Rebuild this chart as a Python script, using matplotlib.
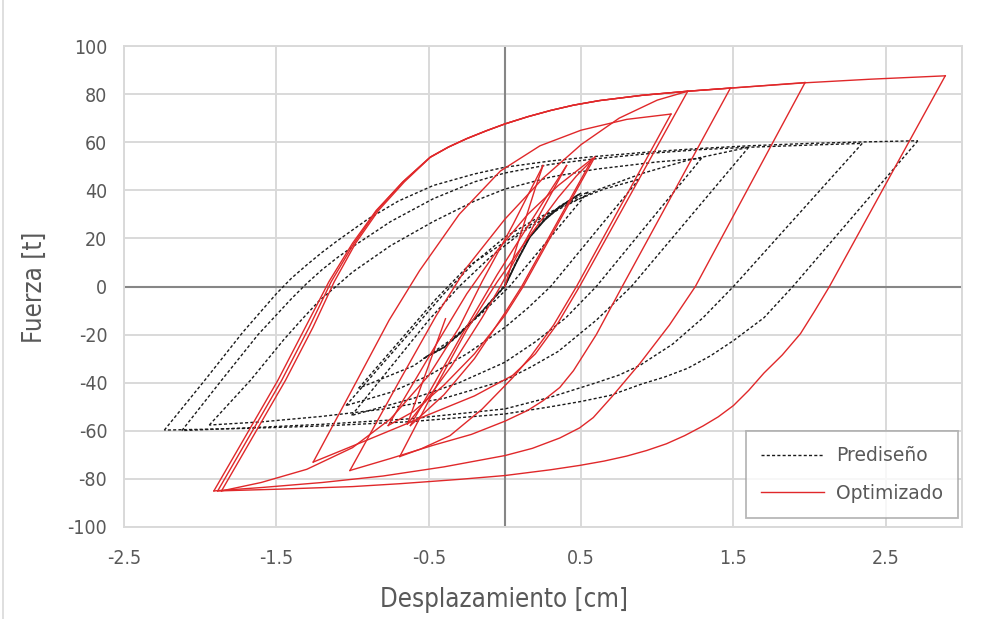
import matplotlib
matplotlib.use("Agg")
import matplotlib.pyplot as plt
from matplotlib.lines import Line2D
from matplotlib.patches import Rectangle
from matplotlib import font_manager

# ---------------- data: force-displacement branches ----------------
# Each branch runs between two load reversals: (displacement [cm], force [t])

# Prediseño (dashed black)
pre_branches = [
    # repeated small cycles around the origin
    [(0, 0), (0.08, 10.5), (0.164, 20.5), (0.26, 27.5), (0.36, 33), (0.49, 38.5)],
    [(0.49, 38.5), (0.36, 33), (0.26, 27.5), (0.164, 20.5), (0.08, 10.5), (0, 0), (-0.15, -10.5),
     (-0.295, -19.7), (-0.4, -25.5), (-0.536, -30)],
    [(-0.536, -30), (-0.4, -25.2), (-0.295, -19.4), (-0.15, -10.2), (0, 0.5), (0.08, 11), (0.164, 21),
     (0.26, 28), (0.36, 33.4), (0.5, 38.8)],
    [(0.5, 38.8), (0.36, 33.2), (0.26, 27.8), (0.164, 20.8), (0.08, 10.8), (0, 0.2), (-0.15, -10.3),
     (-0.295, -19.5), (-0.4, -25.3), (-0.53, -29.6)],
    # loading branches
    [(-2.235, -59.7), (-1.97, -39), (-1.72, -19), (-1.5, -3), (-1.4, 3.5), (-1.3, 9), (-1.2, 14.2),
     (-1.1, 19), (-0.9, 28), (-0.7, 35.5), (-0.47, 42), (-0.2, 46.8), (0, 49.6), (0.3, 52.2),
     (0.58, 54), (1.0, 56.2), (1.28, 57.4), (1.6, 58.5), (2.0, 59.5), (2.345, 60.1), (2.71, 60.6)],
    [(-2.12, -59.9), (-1.86, -39), (-1.62, -20), (-1.4, -5), (-1.3, 1.3), (-1.2, 7), (-1.1, 12),
     (-1.0, 16.5), (-0.75, 27), (-0.47, 36.5), (-0.2, 43.5), (0, 47.2), (0.3, 50.8), (0.58, 53),
     (1.0, 55.6), (1.28, 56.9), (1.6, 57.9), (2.0, 58.8), (2.345, 59.5)],
    [(-1.94, -57.6), (-1.67, -39), (-1.45, -22), (-1.33, -13.5), (-1.22, -6), (-1.1, 0.5),
     (-1.0, 6), (-0.75, 17), (-0.47, 27), (-0.2, 35.5), (0, 40.5), (0.3, 45.5), (0.6, 48.8),
     (1.0, 51.8), (1.29, 53.3)],
    [(-1.006, -53.6), (-0.5, -14), (-0.3, 0), (-0.1, 12), (0.1, 22), (0.35, 32), (0.6, 40),
     (0.9, 47), (1.2, 52.5), (1.6, 57.9)],
    [(-1.043, -49.5), (-0.4, -3), (-0.2, 10), (0, 20.5), (0.2, 28), (0.45, 35.5), (0.65, 40.5),
     (0.88, 44.6)],
    [(-0.96, -42.3), (-0.45, -5), (-0.25, 8), (0, 18.5), (0.2, 27), (0.4, 34.5), (0.547, 39.4)],
    # unloading branches
    [(2.71, 60.6), (1.89, 0), (1.7, -13), (1.5, -22.5), (1.35, -28.8), (1.2, -34), (1.05, -37.6),
     (0.9, -40.5), (0.69, -45.3), (0.5, -47.8), (0.3, -50), (0, -53), (-0.62, -56.2), (-1.2, -58),
     (-1.7, -59), (-2.235, -59.7)],
    [(2.345, 59.5), (1.5, 0), (1.3, -13), (1.1, -24), (0.886, -32.8), (0.75, -36.8), (0.6, -40),
     (0.3, -46), (0, -50.9), (-0.62, -55), (-1.2, -57.3), (-1.7, -58.8), (-2.12, -59.9)],
    [(1.6, 57.9), (0.83, 0), (0.6, -14), (0.35, -27), (0.17, -33.5), (0, -39), (-0.4, -46.5),
     (-0.8, -51), (-1.2, -54), (-1.6, -56.3), (-1.94, -57.6)],
    [(1.29, 53.3), (0.6, 0), (0.4, -13), (0.2, -23), (0, -31.5), (-0.3, -40), (-0.6, -46.5),
     (-1.006, -53.6)],
    [(0.88, 44.6), (0.3, 0), (0.15, -9), (0, -17), (-0.25, -28), (-0.5, -37), (-0.75, -44),
     (-1.043, -49.5)],
    [(0.547, 39.4), (0.03, 0), (-0.15, -11), (-0.35, -22), (-0.6, -33), (-0.96, -42.3)],
]

# Optimizado (solid red)
opt_branches = [
    [(0, 0), (0.07, 15), (0.14, 29), (0.2, 41), (0.25, 50.3)],
    [(0.25, 50.3), (0.055, 26), (-0.15, 2), (-0.3, -17), (-0.5, -37), (-0.75, -55), (-1.0, -67),
     (-1.3, -76), (-1.6, -81.5), (-1.86, -85)],
    [(-1.86, -85), (-1.44, -39), (-1.26, -17), (-1.12, 2), (-0.98, 18), (-0.83, 31.6), (-0.66, 43.5),
     (-0.49, 53.7), (-0.37, 58), (-0.25, 61.5), (-0.12, 64.8), (0, 67.6), (0.15, 70.6), (0.3, 73.2),
     (0.45, 75.4), (0.62, 77.3), (0.9, 79.5), (1.2, 81.2), (1.48, 82.5), (1.97, 84.7), (2.4, 86.2),
     (2.89, 87.6)],
    [(2.89, 87.6), (2.13, 0), (2.03, -10.5), (1.94, -19.6), (1.82, -28.5), (1.7, -36), (1.6, -43.2),
     (1.5, -49.5), (1.4, -54.2), (1.3, -58), (1.18, -62), (1.06, -65.4), (0.93, -68.2), (0.8, -70.5),
     (0.65, -72.6), (0.49, -74.4), (0.3, -76.2), (0, -78.6), (-0.3, -80.2), (-0.69, -82),
     (-1.0, -83.2), (-1.5, -84.3), (-1.885, -85)],
    [(-1.885, -85), (-1.465, -39), (-1.285, -17), (-1.14, 2), (-0.99, 18), (-0.84, 31.6),
     (-0.67, 43.5), (-0.49, 53.8), (-0.37, 58), (-0.25, 61.5), (-0.12, 64.8), (0, 67.6),
     (0.15, 70.6), (0.3, 73.2), (0.45, 75.4), (0.62, 77.3), (0.9, 79.5), (1.2, 81.2), (1.48, 82.5),
     (1.97, 84.8)],
    [(1.97, 84.8), (1.25, 0), (1.08, -16), (0.886, -32), (0.7, -46), (0.58, -54.5), (0.49, -58.8),
     (0.36, -63), (0.18, -67.3), (0, -70.3), (-0.4, -75), (-0.8, -78.8), (-1.2, -81.5),
     (-1.6, -83.6), (-1.91, -85)],
    [(-1.91, -85), (-1.49, -39), (-1.31, -17), (-1.155, 2), (-1.0, 18), (-0.845, 31.6),
     (-0.67, 43.5), (-0.49, 53.8), (-0.37, 58), (-0.25, 61.5), (-0.12, 64.8), (0, 67.6),
     (0.15, 70.6), (0.3, 73.2), (0.45, 75.4), (0.62, 77.3), (0.9, 79.5), (1.2, 81.2), (1.48, 82.5)],
    [(1.48, 82.5), (0.77, 0), (0.6, -20), (0.45, -35), (0.36, -42), (0.25, -47.5), (0.15, -51.5),
     (0, -56), (-0.22, -61.5), (-0.47, -66), (-0.75, -71.5), (-1.017, -76.5)],
    [(-1.017, -76.5), (-0.69, -39), (-0.45, -12), (-0.25, 8), (0, 28), (0.25, 45), (0.5, 59),
     (0.75, 70), (1.0, 77.5), (1.2, 81.2)],
    [(1.2, 81.2), (0.49, 0), (0.35, -15), (0.2, -28), (0.05, -37), (-0.2, -45.5), (-0.49, -53),
     (-0.91, -64), (-1.258, -73)],
    [(-1.258, -73), (-0.97, -39), (-0.76, -14), (-0.56, 6.6), (-0.3, 30), (-0.03, 48), (0.23, 58.5),
     (0.5, 65), (0.8, 69.5), (1.09, 71.7)],
    [(1.09, 71.7), (0.47, 0), (0.32, -16), (0.17, -29), (0.05, -38), (-0.15, -51), (-0.36, -62),
     (-0.55, -67.5), (-0.69, -70.7)],
    [(-0.69, -70.7), (-0.43, -39), (-0.25, -18), (-0.05, 2), (0.15, 20), (0.35, 37), (0.47, 46),
     (0.59, 53.8)],
    [(0.59, 53.8), (0.12, 0), (0, -12), (-0.2, -28), (-0.4, -41), (-0.6, -52), (-0.766, -57.8)],
    [(-0.766, -57.8), (-0.45, -24), (-0.25, -3), (-0.05, 15), (0.15, 30), (0.35, 42), (0.575, 53.2)],
    [(0.575, 53.2), (0.11, 0), (0, -11), (-0.2, -30), (-0.4, -45), (-0.62, -57.8)],
    [(-0.62, -57.8), (-0.3, -22), (-0.05, 5), (0.15, 25), (0.3, 40), (0.405, 50.3)],
    [(0.405, 50.3), (-0.03, 0), (-0.15, -13), (-0.35, -33), (-0.5, -46), (-0.64, -57.2)],
    [(-0.64, -57.2), (-0.39, -13.4)],
]

x_ticks = [-2.5, -1.5, -0.5, 0.5, 1.5, 2.5]
x_tick_labels = ["-2.5", "-1.5", "-0.5", "0.5", "1.5", "2.5"]
y_ticks = [-100, -80, -60, -40, -20, 0, 20, 40, 60, 80, 100]
y_tick_labels = ["-100", "-80", "-60", "-40", "-20", "0", "20", "40", "60", "80", "100"]
series_names = ["Prediseño", "Optimizado"]
x_title = "Desplazamiento [cm]"
y_title = "Fuerza [t]"

# ---------------- fonts: prefer a condensed face for the axis text ----------------
axis_font = {"family": ["Liberation Sans", "DejaVu Sans"], "stretch": "normal"}
narrow = False
for f in font_manager.fontManager.ttflist:
    nm = f.name.lower()
    if "narrow" in nm or "condensed" in nm:
        axis_font = {"family": [f.name, "DejaVu Sans"], "stretch": "normal"}
        narrow = True
        break
    if f.stretch in ("condensed", "semi-condensed") and f.name in ("DejaVu Sans", "Roboto",
                                                                   "Open Sans", "Noto Sans"):
        axis_font = {"family": [f.name, "DejaVu Sans"], "stretch": f.stretch}
        narrow = True
        break

# ---------------- figure ----------------
W, H, DPI = 987, 619, 100
fig = plt.figure(figsize=(W / DPI, H / DPI), dpi=DPI)
ax = fig.add_axes([124 / W, 1 - 527 / H, (962 - 124) / W, (527 - 46) / H])

grid_c = "#d9d9d9"
text_c = "#595959"
axis_c = "#868686"

ax.set_xlim(-2.5, 3.0)
ax.set_ylim(-100, 100)

for xv in x_ticks + [3.0]:
    ax.axvline(xv, color=grid_c, lw=1.4, zorder=0)
for yv in y_ticks:
    ax.axhline(yv, color=grid_c, lw=1.4, zorder=0)
ax.axvline(0, color=axis_c, lw=1.5, zorder=1)
ax.axhline(0, color=axis_c, lw=1.5, zorder=1)

for s in ax.spines.values():
    s.set_color(grid_c)
    s.set_linewidth(1.4)

tick_size = 14 if narrow else 13
ax.set_xticks(x_ticks)
ax.set_xticklabels(x_tick_labels)
ax.set_yticks(y_ticks)
ax.set_yticklabels(y_tick_labels)
ax.tick_params(length=0, labelsize=tick_size, colors=text_c)
ax.tick_params(axis="y", pad=12)
ax.tick_params(axis="x", pad=16)
for lab in ax.get_xticklabels() + ax.get_yticklabels():
    lab.set_family(axis_font["family"])
    lab.set_stretch(axis_font["stretch"])

red = "#e0282a"
for br in opt_branches:
    xs, ys = zip(*br)
    ax.plot(xs, ys, color=red, lw=1.0, zorder=3, solid_joinstyle="round")
for br in pre_branches:
    xs, ys = zip(*br)
    ax.plot(xs, ys, color="#1a1a1a", lw=1.0, ls=(0, (2.2, 1.6)), zorder=2)

title_size = 18.5 if narrow else 17
fig.text(504 / W, 1 - 600 / H, x_title, ha="center", va="center", fontsize=title_size,
         color=text_c, family=axis_font["family"], stretch=axis_font["stretch"])
fig.text(35 / W, 1 - 287 / H, y_title, ha="center", va="center", rotation=90,
         fontsize=title_size, color=text_c, family=axis_font["family"],
         stretch=axis_font["stretch"])

handles = [Line2D([], [], color="#1a1a1a", lw=1.0, ls=(0, (2.2, 1.6))),
           Line2D([], [], color=red, lw=1.0)]
leg = ax.legend(handles, series_names, loc="lower right", bbox_to_anchor=(0.9952, 0.0187),
                borderaxespad=0, frameon=True, fancybox=False,
                handlelength=3.36, handletextpad=0.64, borderpad=0.8, labelspacing=1.0,
                labelcolor=text_c, prop={"family": "DejaVu Sans", "size": 13.5})
leg.get_frame().set_edgecolor("#a6a6a6")
leg.get_frame().set_linewidth(1.3)

# chart area border
fig.patches.append(Rectangle((3 / W, -0.01), 1.2, 1.2, transform=fig.transFigure,
                             fill=False, edgecolor="#d9d9d9", lw=1.2))

fig.savefig("out.png", dpi=DPI)
